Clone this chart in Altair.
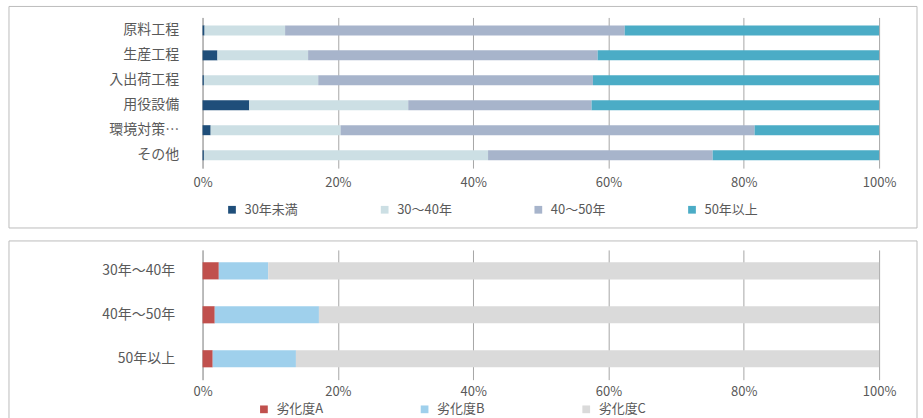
import altair as alt
import pandas as pd

FONT = "Noto Sans CJK JP"
TEXT = "#595959"
GRID = "#A6A6A6"
FRAME = "#BDBDBD"

# --- Upper panel: equipment age by process (share of units) ---
process_names = ["原料工程", "生産工程", "入出荷工程", "用役設備", "環境対策…", "その他"]
age_groups = ["30年未満", "30～40年", "40～50年", "50年以上"]
age_colors = ["#1F4E7A", "#CCDFE4", "#A7B4CB", "#4BACC6"]
under_30 = [0.3, 2.2, 0.2, 6.9, 1.2, 0.2]
from_30_to_40 = [11.9, 13.4, 16.9, 23.5, 19.2, 42.0]
from_40_to_50 = [50.2, 42.8, 40.6, 27.1, 61.2, 33.2]
over_50 = [37.6, 41.6, 42.3, 42.5, 18.4, 24.6]

# --- Lower panel: deterioration grade by age band ---
age_bands = ["30年～40年", "40年～50年", "50年以上"]
grades = ["劣化度A", "劣化度B", "劣化度C"]
grade_colors = ["#C0504D", "#9FD0EC", "#DADADA"]
grade_a = [2.4, 1.8, 1.5]
grade_b = [7.3, 15.4, 12.3]
grade_c = [90.3, 82.8, 86.2]

ticks = [0, 0.2, 0.4, 0.6, 0.8, 1.0]


def long_table(cats, names, series, prefix):
    rows = []
    for i, cat in enumerate(cats):
        for j, (name, vals) in enumerate(zip(names, series)):
            rows.append({"cat": cat, prefix: name, "val": vals[i], "idx": j})
    return pd.DataFrame(rows)


top_df = long_table(process_names, age_groups,
                    [under_30, from_30_to_40, from_40_to_50, over_50], "age")
bot_df = long_table(age_bands, grades, [grade_a, grade_b, grade_c], "grade")


def panel(df, field, cats, names, colors, width, height, pad_inner, pad_outer,
          y_label_pad, x_label_pad, legend_x, legend_y, legend_gap, frame):
    bars = alt.Chart(df).mark_bar().encode(
        y=alt.Y("cat:N", sort=cats, title=None,
                scale=alt.Scale(paddingInner=pad_inner, paddingOuter=pad_outer),
                axis=alt.Axis(ticks=False, domain=True, domainColor=GRID,
                              labelPadding=y_label_pad, labelFontSize=14,
                              labelFont=FONT, labelColor=TEXT)),
        x=alt.X("val:Q", stack="normalize", title=None,
                scale=alt.Scale(domain=[0, 1], nice=False),
                axis=alt.Axis(format="%", values=ticks, ticks=False, domain=False,
                              grid=True, gridColor=GRID, labelPadding=x_label_pad,
                              labelFlush=False,
                              labelFontSize=13, labelFont=FONT, labelColor=TEXT)),
        color=alt.Color(f"{field}:N", scale=alt.Scale(domain=names, range=colors),
                        legend=alt.Legend(title=None, orient="none",
                                          direction="horizontal",
                                          legendX=legend_x, legendY=legend_y,
                                          symbolType="square", symbolSize=60,
                                          symbolStrokeWidth=0,
                                          labelFont=FONT, labelFontSize=13,
                                          labelColor=TEXT, labelOffset=6,
                                          columnPadding=legend_gap)),
        order=alt.Order("idx:Q"),
    )
    box = alt.Chart(pd.DataFrame({"k": [0]})).mark_rect(
        filled=False, stroke=FRAME, strokeWidth=1
    ).encode(
        x=alt.value(frame[0]), x2=alt.value(frame[1]),
        y=alt.value(frame[2]), y2=alt.value(frame[3]),
    )
    return alt.layer(box, bars).properties(width=width, height=height)


top = panel(top_df, "age", process_names, age_groups, age_colors, 678, 151,
            0.6, 0.32, 24, 8, 23, 186, 80, (-194, 716, -11, 211))
bottom = panel(bot_df, "grade", age_bands, grades, grade_colors, 678, 130,
               0.61, 0.28, 28, 6, 55, 153, 95, (-194, 716, -9, 185))

chart = alt.vconcat(top, bottom, spacing=11).resolve_scale(
    color="independent"
).resolve_legend(
    color="independent"
).properties(
    padding={"left": 8, "top": 5, "right": 5, "bottom": 0},
    background="white",
).configure_view(strokeWidth=0)

chart.save("out.html", embed_options={"renderer": "svg", "actions": False})
